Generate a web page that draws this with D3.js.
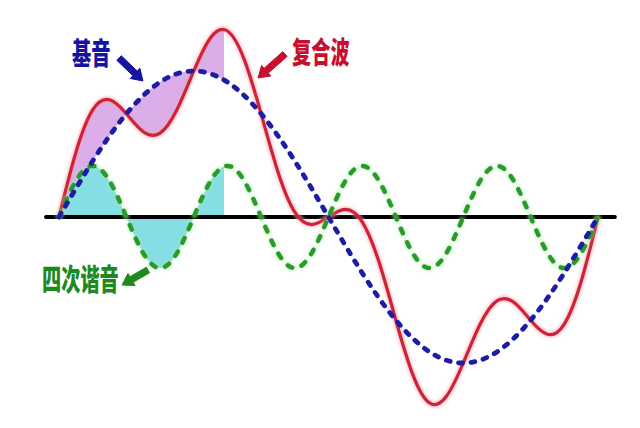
<!DOCTYPE html>
<html><head><meta charset="utf-8">
<script src="https://cdn.jsdelivr.net/npm/d3@7"></script>
<style>html,body{margin:0;padding:0;background:#fff;}svg{display:block;}</style>
</head><body>
<svg id="c" width="640" height="428"></svg>
<script>
// phase samples: 32 steps per fundamental period
const phase = [0,1,2,3,4,5,6,7,8,9,10,11,12,13,14,15,16,17,18,19,20,21,22,23,24,25,26,27,28,29,30,31,32];
// 基音 (fundamental), amplitude units
const fundamental = [0,0.195,0.383,0.556,0.707,0.831,0.924,0.981,1,0.981,0.924,0.831,0.707,0.556,0.383,0.195,0,-0.195,-0.383,-0.556,-0.707,-0.831,-0.924,-0.981,-1,-0.981,-0.924,-0.831,-0.707,-0.556,-0.383,-0.195,0];
// 四次谐音 (fourth harmonic)
const harmonic4 = [0,0.247,0.35,0.247,0,-0.247,-0.35,-0.247,0,0.247,0.35,0.247,0,-0.247,-0.35,-0.247,0,0.247,0.35,0.247,0,-0.247,-0.35,-0.247,0,0.247,0.35,0.247,0,-0.247,-0.35,-0.247,0];
// 复合波 (composite)
const composite = [0,0.442,0.733,0.803,0.707,0.584,0.574,0.734,1,1.228,1.274,1.078,0.707,0.309,0.033,-0.052,0,0.052,-0.033,-0.309,-0.707,-1.078,-1.274,-1.228,-1,-0.734,-0.574,-0.584,-0.707,-0.803,-0.733,-0.442,0];
const labels = ["基音","复合波","四次谐音"];
const shadeEnd = 9.8; // phase where shading stops

const svg = d3.select("#c");
const x = d3.scaleLinear().domain([0,32]).range([59,598]);
const y = d3.scaleLinear().domain([-1,1]).range([363,71]);

const rows = phase.map((p,i)=>({p, b:fundamental[i], g:harmonic4[i], r:composite[i]}));

const defs = svg.append("defs");
defs.append("clipPath").attr("id","shade").append("rect")
  .attr("x", x(0)-2).attr("y",0).attr("width", x(shadeEnd)-x(0)+2).attr("height",428);
const blur = defs.append("filter").attr("id","soft").attr("x","-10%").attr("y","-10%").attr("width","120%").attr("height","120%");
blur.append("feGaussianBlur").attr("stdDeviation",1.6);

// shaded areas
svg.append("path").datum(rows).attr("clip-path","url(#shade)")
  .attr("fill","#dbaeea")
  .attr("d", d3.area().curve(d3.curveNatural).x(d=>x(d.p)).y0(d=>y(d.b)).y1(d=>y(d.r)));
svg.append("path").datum(rows).attr("clip-path","url(#shade)")
  .attr("fill","#84dee3")
  .attr("d", d3.area().curve(d3.curveNatural).x(d=>x(d.p)).y0(y(0)).y1(d=>y(d.g)));

// axis line
svg.append("line").attr("x1",x(-0.77)).attr("x2",x(33)).attr("y1",y(0)).attr("y2",y(0))
  .attr("stroke","#000").attr("stroke-width",4).attr("stroke-linecap","round");

const line = key => d3.line().curve(d3.curveNatural).x(d=>x(d.p)).y(d=>y(d[key]));

// composite (red) with soft halo
svg.append("path").datum(rows).attr("d",line("r")).attr("fill","none")
  .attr("stroke","#f3a3ae").attr("stroke-width",6).attr("opacity",0.6).attr("filter","url(#soft)");
svg.append("path").datum(rows).attr("d",line("r")).attr("fill","none")
  .attr("stroke","#cf2237").attr("stroke-width",3.2);

// harmonic (green)
svg.append("path").datum(rows).attr("d",line("g")).attr("fill","none")
  .attr("stroke","#a8e8a8").attr("stroke-width",7).attr("stroke-dasharray","6,9").attr("stroke-linecap","round")
  .attr("opacity",0.45).attr("filter","url(#soft)");
svg.append("path").datum(rows).attr("d",line("g")).attr("fill","none")
  .attr("stroke","#2a9b2a").attr("stroke-width",4.5).attr("stroke-dasharray","5,10").attr("stroke-linecap","round");

// fundamental (blue)
svg.append("path").datum(rows).attr("d",line("b")).attr("fill","none")
  .attr("stroke","#1c1ca6").attr("stroke-width",4.8).attr("stroke-dasharray","4,8.5").attr("stroke-linecap","round");

// labels
function label(txt, x0, yc, color){
  const g = svg.append("g").attr("transform",`translate(${x0},${yc}) scale(0.64,1)`);
  g.append("text").text(txt).attr("x",0).attr("y",0)
    .attr("dominant-baseline","central")
    .attr("font-family","'Noto Sans CJK SC', sans-serif").attr("font-weight","900")
    .attr("font-size",30).attr("fill",color);
}
label(labels[0], 72, 51, "#1414a0");
label(labels[1], 292, 50, "#c8102e");
label(labels[2], 42, 277, "#1e8a1e");

// arrows
function arrow(x1,y1,x2,y2,color){
  const dx=x2-x1, dy=y2-y1, L=Math.hypot(dx,dy), ux=dx/L, uy=dy/L, nx=-uy, ny=ux;
  const hl=11, hw=7, sw=3.2;
  const bx=x2-ux*hl, by=y2-uy*hl;
  const pts=[[x1+nx*sw,y1+ny*sw],[bx+nx*sw,by+ny*sw],[bx+nx*hw,by+ny*hw],[x2,y2],[bx-nx*hw,by-ny*hw],[bx-nx*sw,by-ny*sw],[x1-nx*sw,y1-ny*sw]];
  svg.append("path").attr("d","M"+pts.map(p=>p.join(",")).join("L")+"Z")
    .attr("fill",color).attr("stroke",color).attr("stroke-width",1).attr("stroke-linejoin","round");
}
arrow(119,58,143,81,"#1414a0");
arrow(285,54,258,78,"#c8102e");
arrow(148,270,122,285,"#1e8a1e");
</script>
</body></html>
